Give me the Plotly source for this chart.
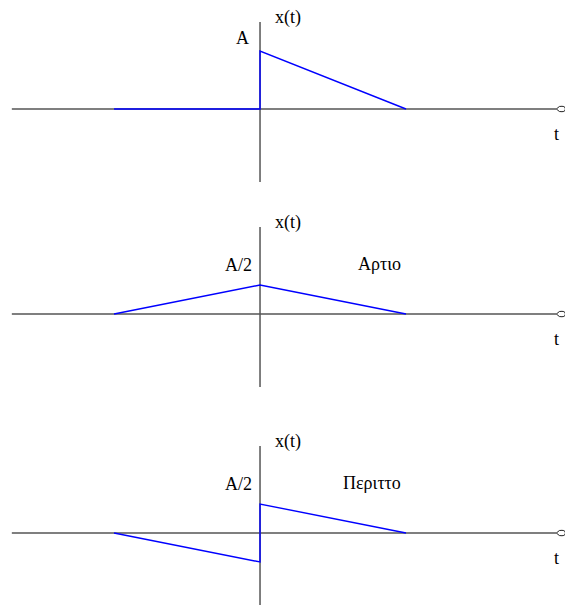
import plotly.graph_objects as go
from plotly.subplots import make_subplots

# signal breakpoints (t in units of T, amplitude in units of A)
t_orig = [-1.0, 0.0, 0.0, 1.0]
x_orig = [0.0, 0.0, 1.0, 0.0]

t_even = [-1.0, 0.0, 1.0]
x_even = [0.0, 0.5, 0.0]

t_odd = [-1.0, 0.0, 0.0, 1.0]
x_odd = [0.0, -0.5, 0.5, 0.0]

amp_labels = ["A", "A/2", "A/2"]
part_labels = ["", "Αρτιο", "Περιττο"]

BLUE = "#0000ff"
AXIS = "#555555"
FONT = dict(family="Times New Roman, Liberation Serif, serif", size=18, color="#000000")

T_RANGE = [-1.781, 2.089]
Y_RANGES = [[-1.569, 1.879], [-1.655, 1.966], [-1.241, 2.121]]
DOMAINS = [[1 - 200 / 605, 1.0], [1 - 410 / 605, 1 - 200 / 605], [0.0, 1 - 410 / 605]]

fig = make_subplots(rows=3, cols=1)

series = [(t_orig, x_orig), (t_even, x_even), (t_odd, x_odd)]
for i, (ts, xs) in enumerate(series):
    row = i + 1
    xa = "x" if i == 0 else f"x{row}"
    ya = "y" if i == 0 else f"y{row}"

    # axes drawn as lines, under the signal
    fig.add_shape(type="line", xref=xa, yref=ya, x0=-1.70, x1=2.03, y0=0, y1=0,
                  layer="below", line=dict(color=AXIS, width=1.5))
    fig.add_shape(type="line", xref=xa, yref=ya, x0=0, x1=0, y0=-1.26, y1=1.5,
                  layer="below", line=dict(color=AXIS, width=1.5))
    # open arrow tip on t-axis
    fig.add_shape(type="path", xref=xa, yref=ya,
                  xsizemode="pixel", ysizemode="pixel", xanchor=2.03, yanchor=0,
                  path="M 0 0 L 3 2.5 Q 9 3.5 9 0 Q 9 -3.5 3 -2.5 Z",
                  line=dict(color="#222222", width=1), fillcolor="white")
    fig.add_trace(go.Scatter(x=ts, y=xs, mode="lines",
                             line=dict(color=BLUE, width=1.4),
                             showlegend=False, hoverinfo="skip"), row=row, col=1)

    fig.add_annotation(xref=xa, yref=ya, x=0.19, y=1.58, text="x(t)",
                       showarrow=False, font=FONT)
    fig.add_annotation(xref=xa, yref=ya, x=2.03, y=-0.43, text="t",
                       showarrow=False, font=FONT)
    amp_x, amp_y = (-0.12, 1.22) if i == 0 else (-0.15, 0.85)
    fig.add_annotation(xref=xa, yref=ya, x=amp_x, y=amp_y, text=amp_labels[i],
                       showarrow=False, font=FONT)
    if part_labels[i]:
        px = 0.815 if i == 1 else 0.77
        fig.add_annotation(xref=xa, yref=ya, x=px, y=0.86, text=part_labels[i],
                           showarrow=False, font=FONT)

for i in range(3):
    fig.update_xaxes(range=T_RANGE, domain=[0, 1], visible=False, row=i + 1, col=1)
    fig.update_yaxes(range=Y_RANGES[i], domain=DOMAINS[i], visible=False, row=i + 1, col=1)

fig.update_layout(
    width=565, height=605,
    margin=dict(l=0, r=0, t=0, b=0),
    paper_bgcolor="white", plot_bgcolor="white",
    showlegend=False,
)

fig.write_html("out.html", config={"displayModeBar": False},
               post_script="document.body.style.margin='0';")
